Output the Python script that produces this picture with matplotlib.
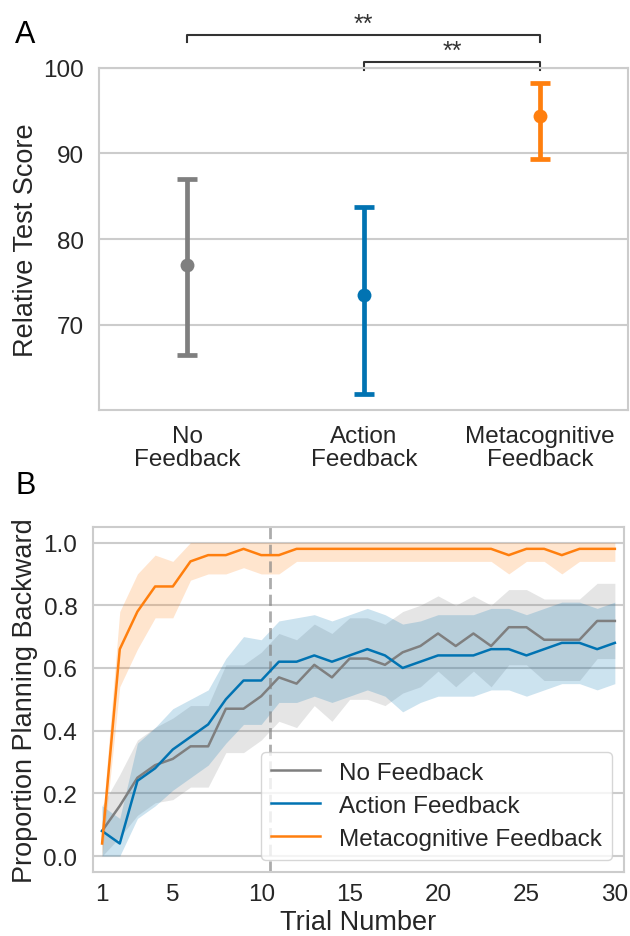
import numpy as np
import matplotlib.pyplot as plt

plt.rcParams['font.family'] = ['Liberation Sans', 'DejaVu Sans']
TEXT = '#262626'
GRID = '#cccccc'

conditions = ['No Feedback', 'Action Feedback', 'Metacognitive Feedback']
tick_names = ['No\nFeedback', 'Action\nFeedback', 'Metacognitive\nFeedback']
colors = ['#7f7f7f', '#0173b2', '#ff7f0e']

# panel A: test score, mean and 95% CI
score_mean = [77.0, 73.5, 94.4]
score_low = [66.5, 61.9, 89.4]
score_high = [87.0, 83.8, 98.2]

# panel B: proportion planning backward per trial
trials = np.arange(1, 31)
none_mean = [0.08, 0.16, 0.25, 0.29, 0.31, 0.35, 0.35, 0.47, 0.47, 0.51,
             0.57, 0.55, 0.61, 0.57, 0.63, 0.63, 0.61, 0.65, 0.67, 0.71,
             0.67, 0.71, 0.67, 0.73, 0.73, 0.69, 0.69, 0.69, 0.75, 0.75]
none_low = [0.00, 0.06, 0.13, 0.17, 0.18, 0.22, 0.22, 0.33, 0.33, 0.37,
            0.43, 0.41, 0.48, 0.43, 0.50, 0.50, 0.48, 0.52, 0.54, 0.59,
            0.54, 0.59, 0.54, 0.61, 0.61, 0.56, 0.56, 0.56, 0.63, 0.63]
none_high = [0.16, 0.26, 0.37, 0.41, 0.44, 0.48, 0.48, 0.61, 0.61, 0.65,
             0.71, 0.69, 0.74, 0.71, 0.76, 0.76, 0.74, 0.78, 0.80, 0.83,
             0.80, 0.83, 0.80, 0.85, 0.85, 0.82, 0.82, 0.82, 0.87, 0.87]

action_mean = [0.08, 0.04, 0.24, 0.28, 0.34, 0.38, 0.42, 0.50, 0.56, 0.56,
               0.62, 0.62, 0.64, 0.62, 0.64, 0.66, 0.64, 0.60, 0.62, 0.64,
               0.64, 0.64, 0.66, 0.66, 0.64, 0.66, 0.68, 0.68, 0.66, 0.68]
action_low = [0.00, 0.00, 0.12, 0.16, 0.21, 0.25, 0.29, 0.36, 0.42, 0.42,
              0.49, 0.49, 0.51, 0.49, 0.51, 0.53, 0.51, 0.46, 0.49, 0.51,
              0.51, 0.51, 0.53, 0.53, 0.51, 0.53, 0.55, 0.55, 0.53, 0.55]
action_high = [0.16, 0.12, 0.36, 0.41, 0.47, 0.50, 0.53, 0.63, 0.70, 0.69,
               0.75, 0.76, 0.77, 0.75, 0.77, 0.79, 0.77, 0.74, 0.75, 0.77,
               0.77, 0.77, 0.79, 0.79, 0.77, 0.79, 0.81, 0.81, 0.79, 0.81]

meta_mean = [0.04, 0.66, 0.78, 0.86, 0.86, 0.94, 0.96, 0.96, 0.98, 0.96,
             0.96, 0.98, 0.98, 0.98, 0.98, 0.98, 0.98, 0.98, 0.98, 0.98,
             0.98, 0.98, 0.98, 0.96, 0.98, 0.98, 0.96, 0.98, 0.98, 0.98]
meta_low = [0.00, 0.54, 0.66, 0.76, 0.76, 0.88, 0.90, 0.90, 0.92, 0.90,
            0.90, 0.94, 0.94, 0.94, 0.94, 0.94, 0.94, 0.94, 0.94, 0.94,
            0.94, 0.94, 0.94, 0.90, 0.94, 0.94, 0.90, 0.94, 0.94, 0.94]
meta_high = [0.10, 0.78, 0.90, 0.96, 0.94, 1.00, 1.00, 1.00, 1.00, 1.00,
             1.00, 1.00, 1.00, 1.00, 1.00, 1.00, 1.00, 1.00, 1.00, 1.00,
             1.00, 1.00, 1.00, 1.00, 1.00, 1.00, 1.00, 1.00, 1.00, 1.00]

curves = [(none_mean, none_low, none_high),
          (action_mean, action_low, action_high),
          (meta_mean, meta_low, meta_high)]


def style_axes(ax):
    ax.set_facecolor('white')
    for s in ax.spines.values():
        s.set_color(GRID)
        s.set_linewidth(1.5)
    ax.grid(axis='y', color=GRID, linewidth=1.5)
    ax.grid(axis='x', visible=False)
    ax.set_axisbelow(True)


fig = plt.figure(figsize=(6.3, 9.37), dpi=100)

# ---- panel A
ax = fig.add_axes([0.1575, 0.5616, 0.84, 0.365])
style_axes(ax)
for i in range(3):
    m = score_mean[i]
    ax.errorbar(i, m, yerr=[[m - score_low[i]], [score_high[i] - m]],
                fmt='none', ecolor=colors[i], elinewidth=3.4, capsize=7.5,
                capthick=3.4, zorder=3)
    ax.plot(i, m, 'o', color=colors[i], ms=10, mew=0, zorder=4)
ax.set_xlim(-0.5, 2.5)
ax.set_ylim(60.1, 100)
ax.set_yticks([70, 80, 90, 100])
ax.set_xticks([0, 1, 2])
ax.set_xticklabels(tick_names, linespacing=1.05)
ax.tick_params(axis='both', length=0, labelsize=17.5, colors=TEXT)
ax.tick_params(axis='y', pad=11)
ax.tick_params(axis='x', pad=11)
ax.set_ylabel('Relative Test Score', fontsize=19.5, color=TEXT, labelpad=3)

# significance brackets
br = '#333333'
ax.plot([0, 0, 2, 2], [102.95, 103.85, 103.85, 102.95], color=br, lw=1.5,
        clip_on=False)
ax.text(1, 104.3, '**', ha='center', va='baseline', fontsize=18, color=br)
ax.plot([1, 1, 2, 2], [99.77, 100.62, 100.62, 99.77], color=br, lw=1.5,
        clip_on=False)
ax.text(1.5, 101.1, '**', ha='center', va='baseline', fontsize=18, color=br)

# ---- panel B
bx = fig.add_axes([0.148, 0.0686, 0.842, 0.368])
style_axes(bx)
for (m, lo, hi), c, name in zip(curves, colors, conditions):
    bx.fill_between(trials, lo, hi, color=c, alpha=0.2, linewidth=0)
    bx.plot(trials, m, color=c, lw=1.8, label=name, zorder=3)
bx.axvline(10.5, color='gray', alpha=0.65, lw=2, linestyle=(0, (4, 2)),
           zorder=2.5)
bx.set_xlim(0.5, 30.5)
bx.set_ylim(-0.05, 1.05)
bx.set_xticks([1, 5, 10, 15, 20, 25, 30])
bx.set_yticks([0.0, 0.2, 0.4, 0.6, 0.8, 1.0])
bx.set_yticklabels(['0.0', '0.2', '0.4', '0.6', '0.8', '1.0'])
bx.tick_params(axis='both', length=0, labelsize=17.5, colors=TEXT)
bx.tick_params(axis='y', pad=11.5)
bx.tick_params(axis='x', pad=8)
bx.set_xlabel('Trial Number', fontsize=19.5, color=TEXT, labelpad=3)
bx.set_ylabel('Proportion Planning Backward', fontsize=19.5, color=TEXT,
              labelpad=4)
leg = bx.legend(loc='lower right', fontsize=17.5, handlelength=2.0,
                handletextpad=0.8, labelspacing=0.45, borderpad=0.4,
                framealpha=0.8, edgecolor=GRID, fancybox=True)
for t in leg.get_texts():
    t.set_color(TEXT)

fig.text(15 / 630, 1 - 43.3 / 937, 'A', fontsize=22, ha='left', va='baseline')
fig.text(15 / 630, 1 - 494 / 937, 'B', fontsize=22, ha='left', va='baseline')

fig.savefig('out.png', dpi=100)
